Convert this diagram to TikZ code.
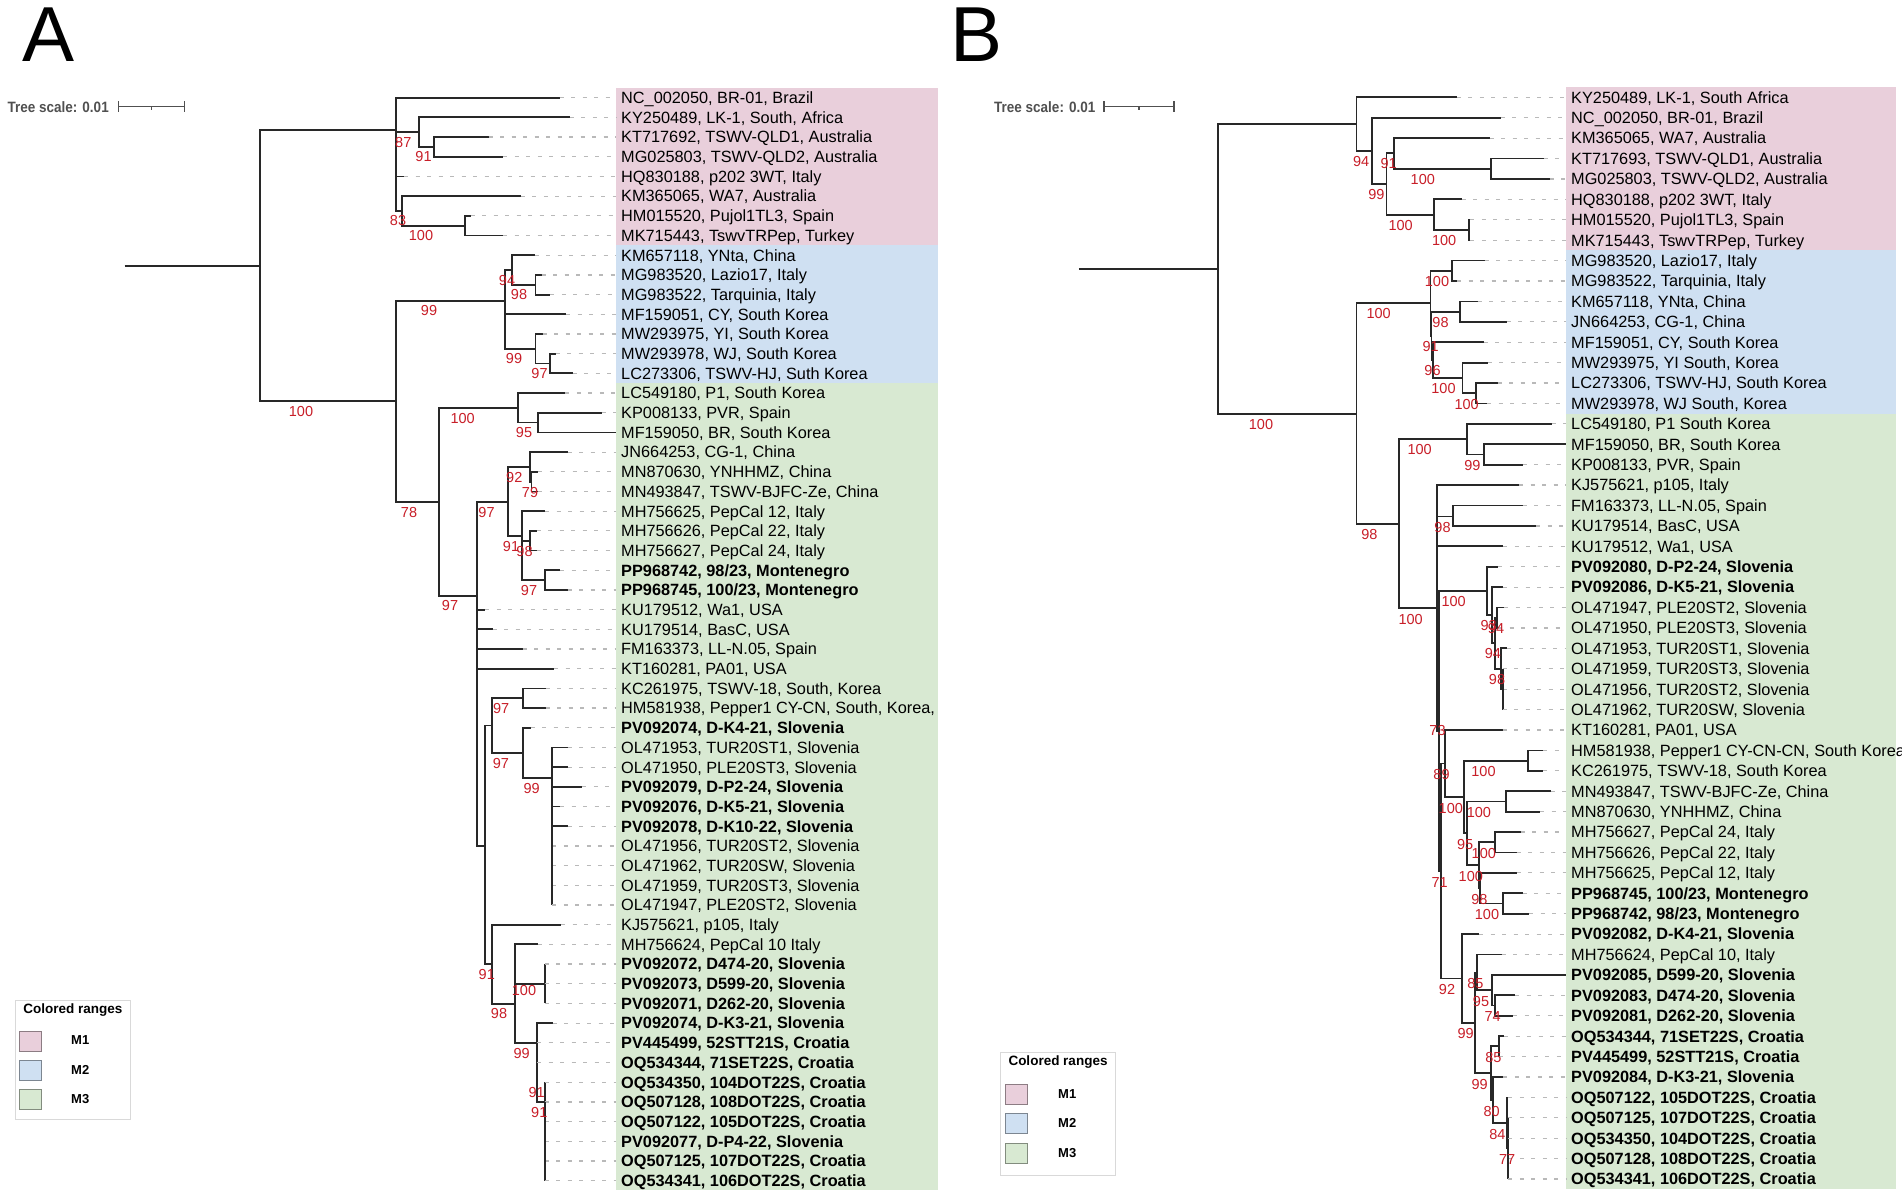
\documentclass[tikz,border=0pt]{standalone}
\usepackage{fontspec}
\setmainfont{Liberation Sans}
\definecolor{mpink}{RGB}{233,207,219}
\definecolor{mblue}{RGB}{207,224,242}
\definecolor{mgreen}{RGB}{216,233,210}
\definecolor{bsred}{RGB}{200,30,40}
\definecolor{brc}{RGB}{40,40,40}
\definecolor{dashc}{RGB}{185,185,185}
\definecolor{scalec}{RGB}{80,80,80}
\tikzset{
 br/.style={draw=brc, line width=1.8pt},
 dl/.style={draw=dashc, line width=1.2pt, dash pattern=on 4pt off 7.5pt},
 tl/.style={anchor=west, inner xsep=5pt, inner ysep=0pt, text height=14pt, text depth=2.3pt, font=\fontsize{16.3}{18}\selectfont},
 bs/.style={text=bsred, inner sep=0pt, font=\fontsize{14.5}{16}\selectfont},
 tscale/.style={anchor=west, inner sep=0pt, text=scalec, font=\bfseries\fontsize{15}{17}\selectfont},
 sbar/.style={draw=scalec, line width=1.5pt},
 legbox/.style={draw=gray!30, line width=0.8pt, fill=white},
 legtitle/.style={inner sep=0pt, font=\bfseries\fontsize{13.5}{15}\selectfont},
 legtext/.style={anchor=west, inner sep=0pt, font=\bfseries\fontsize{13}{15}\selectfont},
 swatch/.style={anchor=north west, minimum width=22pt, minimum height=20pt, inner sep=0pt, line width=0.8pt},
 panel/.style={anchor=base west, inner sep=0pt, font=\fontsize{78}{80}\selectfont},
}
\newcommand\rowA[1]{97.7+19.69*#1}
\newcommand\rowB[1]{97.3+20.41*#1}
\newcommand\inode[4]{\coordinate (#1) at (#2,#3);\draw[br] (#4) |- (#1);}
\newcommand\tipA[5]{\coordinate (ta#1) at (#2,{\rowA{#1}});%
  \draw[br] (#3) |- (ta#1);%
  \node[tl] (la#1) at (616,{\rowA{#1}}) {#4#5};%
  \draw[dl] (ta#1) -- (la#1.west);}
\newcommand\tipB[5]{\coordinate (tb#1) at (#2,{\rowB{#1}});%
  \draw[br] (#3) |- (tb#1);%
  \node[tl] (lb#1) at (1566,{\rowB{#1}}) {#4#5};%
  \draw[dl] (tb#1) -- (lb#1.west);}
\newcommand\bsl[4]{\node[bs] (#1) at (#2,#3) {#4};}
\begin{document}
\begin{tikzpicture}[x=1pt,y=-1pt]
\path[use as bounding box] (0,0) rectangle (1902,1198);
\clip (0,0) rectangle (1902,1198);
\fill[white] (0,0) rectangle (1902,1198);

% ---------- panel letters ----------
\node[panel] (pA) at (22,62) {A};
\node[panel] (pB) at (950,62) {B};

% ---------- tree scales ----------
\node[tscale] (tsA) at (7.5,106.7) {\scalebox{0.9}[1]{Tree scale: 0.01}};
\coordinate (sA1) at (118.6,106.7); \coordinate (sA2) at (184.7,106.7);
\draw[sbar] (sA1) -- (sA2);
\draw[sbar] (118.6,101.5) -- (118.6,112); \draw[sbar] (184.7,101.5) -- (184.7,112);
\draw[sbar] (151.6,106.7) -- (151.6,109.8);
\node[tscale] (tsB) at (994,106.7) {\scalebox{0.9}[1]{Tree scale: 0.01}};
\coordinate (sB1) at (1104.2,106.7); \coordinate (sB2) at (1173.8,106.7);
\draw[sbar] (sB1) -- (sB2);
\draw[sbar] (1104.2,101.5) -- (1104.2,112); \draw[sbar] (1173.8,101.5) -- (1173.8,112);
\draw[sbar] (1139,106.7) -- (1139,109.8);

% ---------- coloured ranges ----------
\fill[mpink]  (616,87.9) rectangle (937.7,245.35);
\fill[mblue]  (616,245.35) rectangle (937.7,383.2);
\fill[mgreen] (616,383.2) rectangle (937.7,1190.4);
\fill[mpink]  (1566,87.1) rectangle (1896,250.4);
\fill[mblue]  (1566,250.4) rectangle (1896,413.7);
\fill[mgreen] (1566,413.7) rectangle (1896,1189.2);

% ================= TREE A =================
\coordinate (stemA) at (124.6,265.7);
\coordinate (rootA) at (260.2,265.7);
\draw[br] (stemA) -- (rootA);
\inode{M1A}{395.8}{130.3}{rootA}
\inode{N87A}{419.1}{132.2}{M1A}
\inode{N91A}{433.8}{146.95}{N87A}
\inode{N83A}{402.1}{210.9}{M1A}
\inode{N100hA}{464.6}{225.65}{N83A}
\inode{M23A}{395.8}{401.3}{rootA}
\inode{M2A}{504.9}{300.8}{M23A}
\inode{N94A}{512}{270}{M2A}
\inode{N98A}{535.4}{284.75}{N94A}
\inode{N99A}{535.4}{348.8}{M2A}
\inode{N97A}{550}{363.55}{N99A}
\inode{M3A}{438.7}{502}{M23A}
\inode{N100cA}{517.7}{407.8}{M3A}
\inode{N95A}{538}{422.55}{N100cA}
\inode{N97bA}{477.3}{596}{M3A}
\inode{N97aA}{507.7}{501.65}{N97bA}
\inode{N92A}{530}{466.9}{N97aA}
\inode{N79A}{531.5}{481.65}{N92A}
\inode{N91mA}{522.3}{535.8}{N97aA}
\inode{N98mA}{530}{540.75}{N91mA}
\inode{N97mA}{545}{580.15}{N91mA}
\inode{TA}{485}{845.75}{N97bA}
\inode{N492A}{492.3}{725.5}{TA}
\inode{N522aA}{522.7}{698.25}{N492A}
\inode{N522bA}{522.7}{752.8}{N492A}
\inode{N99sA}{552.3}{777.8}{N522bA}
\inode{N91bA}{491.7}{963.85}{TA}
\inode{N98bA}{515}{1003.7}{N91bA}
\inode{N100sA}{544.7}{983.75}{N98bA}
\inode{N99bA}{537}{1043.3}{N98bA}
\inode{N91cA}{544.7}{1102.3}{N99bA}

\tipA{0}{559.5}{M1A}{}{NC\_002050, BR-01, Brazil}
\tipA{1}{569.8}{N87A}{}{KY250489, LK-1, South, Africa}
\tipA{2}{488.7}{N91A}{}{KT717692, TSWV-QLD1, Australia}
\tipA{3}{503.4}{N91A}{}{MG025803, TSWV-QLD2, Australia}
\tipA{4}{404.1}{M1A}{}{HQ830188, p202 3WT, Italy}
\tipA{5}{520.8}{N83A}{}{KM365065, WA7, Australia}
\tipA{6}{470.5}{N100hA}{}{HM015520, Pujol1TL3, Spain}
\tipA{7}{503}{N100hA}{}{MK715443, TswvTRPep, Turkey}
\tipA{8}{534.6}{N94A}{}{KM657118, YNta, China}
\tipA{9}{541.7}{N98A}{}{MG983520, Lazio17, Italy}
\tipA{10}{550.4}{N98A}{}{MG983522, Tarquinia, Italy}
\tipA{11}{566.2}{M2A}{}{MF159051, CY, South Korea}
\tipA{12}{542.5}{N99A}{}{MW293975, YI, South Korea}
\tipA{13}{555.5}{N97A}{}{MW293978, WJ, South Korea}
\tipA{14}{572.6}{N97A}{}{LC273306, TSWV-HJ, Suth Korea}
\tipA{15}{565.3}{N100cA}{}{LC549180, P1, South Korea}
\tipA{16}{601.7}{N95A}{}{KP008133, PVR, Spain}
\tipA{17}{616}{N95A}{}{MF159050, BR, South Korea}
\tipA{18}{567.7}{N92A}{}{JN664253, CG-1, China}
\tipA{19}{538}{N79A}{}{MN870630, YNHHMZ, China}
\tipA{20}{538}{N79A}{}{MN493847, TSWV-BJFC-Ze, China}
\tipA{21}{545}{N91mA}{}{MH756625, PepCal 12, Italy}
\tipA{22}{536.7}{N98mA}{}{MH756626, PepCal 22, Italy}
\tipA{23}{536.7}{N98mA}{}{MH756627, PepCal 24, Italy}
\tipA{24}{560}{N97mA}{\bfseries}{PP968742, 98/23, Montenegro}
\tipA{25}{567.7}{N97mA}{\bfseries}{PP968745, 100/23, Montenegro}
\tipA{26}{485.3}{N97bA}{}{KU179512, Wa1, USA}
\tipA{27}{492.7}{N97bA}{}{KU179514, BasC, USA}
\tipA{28}{522.7}{N97bA}{}{FM163373, LL-N.05, Spain}
\tipA{29}{554}{N97bA}{}{KT160281, PA01, USA}
\tipA{30}{545.7}{N522aA}{}{KC261975, TSWV-18, South, Korea}
\tipA{31}{545.7}{N522aA}{}{HM581938, Pepper1 CY-CN, South, Korea,}
\tipA{32}{530.7}{N522bA}{\bfseries}{PV092074, D-K4-21, Slovenia}
\tipA{33}{567.7}{N99sA}{}{OL471953, TUR20ST1, Slovenia}
\tipA{34}{567.7}{N99sA}{}{OL471950, PLE20ST3, Slovenia}
\tipA{35}{582.3}{N99sA}{\bfseries}{PV092079, D-P2-24, Slovenia}
\tipA{36}{560}{N99sA}{\bfseries}{PV092076, D-K5-21, Slovenia}
\tipA{37}{567.7}{N99sA}{\bfseries}{PV092078, D-K10-22, Slovenia}
\tipA{38}{552.3}{N99sA}{}{OL471956, TUR20ST2, Slovenia}
\tipA{39}{552.3}{N99sA}{}{OL471962, TUR20SW, Slovenia}
\tipA{40}{552.3}{N99sA}{}{OL471959, TUR20ST3, Slovenia}
\tipA{41}{552.3}{N99sA}{}{OL471947, PLE20ST2, Slovenia}
\tipA{42}{561}{N91bA}{}{KJ575621, p105, Italy}
\tipA{43}{537.7}{N98bA}{}{MH756624, PepCal 10 Italy}
\tipA{44}{544.7}{N100sA}{\bfseries}{PV092072, D474-20, Slovenia}
\tipA{45}{544.7}{N100sA}{\bfseries}{PV092073, D599-20, Slovenia}
\tipA{46}{544.7}{N100sA}{\bfseries}{PV092071, D262-20, Slovenia}
\tipA{47}{552.7}{N99bA}{\bfseries}{PV092074, D-K3-21, Slovenia}
\tipA{48}{537}{N99bA}{\bfseries}{PV445499, 52STT21S, Croatia}
\tipA{49}{537}{N99bA}{\bfseries}{OQ534344, 71SET22S, Croatia}
\tipA{50}{544.7}{N91cA}{\bfseries}{OQ534350, 104DOT22S, Croatia}
\tipA{51}{544.7}{N91cA}{\bfseries}{OQ507128, 108DOT22S, Croatia}
\tipA{52}{544.7}{N91cA}{\bfseries}{OQ507122, 105DOT22S, Croatia}
\tipA{53}{544.7}{N91cA}{\bfseries}{PV092077, D-P4-22, Slovenia}
\tipA{54}{544.7}{N91cA}{\bfseries}{OQ507125, 107DOT22S, Croatia}
\tipA{55}{544.7}{N91cA}{\bfseries}{OQ534341, 106DOT22S, Croatia}

\bsl{bA1}{403.3}{142.3}{87}
\bsl{bA2}{423.5}{157}{91}
\bsl{bA3}{398}{221}{83}
\bsl{bA4}{421}{236}{100}
\bsl{bA5}{301}{411.7}{100}
\bsl{bA6}{429}{311}{99}
\bsl{bA7}{507}{280.5}{94}
\bsl{bA8}{519}{295}{98}
\bsl{bA9}{514}{359}{99}
\bsl{bA10}{539.5}{373.5}{97}
\bsl{bA11}{409}{512.7}{78}
\bsl{bA12}{462.7}{418.3}{100}
\bsl{bA13}{524}{433}{95}
\bsl{bA14}{486.5}{512.2}{97}
\bsl{bA15}{514.3}{477.3}{92}
\bsl{bA16}{530}{492.5}{79}
\bsl{bA17}{511}{546.3}{91}
\bsl{bA18}{524.5}{551.5}{98}
\bsl{bA19}{529}{590.5}{97}
\bsl{bA20}{450}{606}{97}
\bsl{bA21}{501.2}{709}{97}
\bsl{bA22}{500.9}{763.3}{97}
\bsl{bA23}{531.6}{788.3}{99}
\bsl{bA24}{486.8}{974.5}{91}
\bsl{bA25}{499}{1013.5}{98}
\bsl{bA26}{524}{990}{100}
\bsl{bA27}{521.7}{1053.5}{99}
\bsl{bA28}{536.7}{1092.7}{91}
\bsl{bA29}{539.3}{1112.3}{91}

% ================= TREE B =================
\coordinate (stemB) at (1078.9,268.9);
\coordinate (rootB) at (1218.1,268.9);
\draw[br] (stemB) -- (rootB);
\inode{M1B}{1356.5}{124.1}{rootB}
\inode{N94B}{1371.9}{150.9}{M1B}
\inode{N99B}{1386.5}{184}{N94B}
\inode{N91B}{1393.6}{153.4}{N99B}
\inode{N100qB}{1491}{168.7}{N91B}
\inode{N100B}{1433.6}{214.7}{N99B}
\inode{N100hB}{1468.8}{230}{N100B}
\inode{M23B}{1356.5}{413.6}{rootB}
\inode{M2B}{1430.4}{303.3}{M23B}
\inode{N100aB}{1452.2}{270.8}{M2B}
\inode{X91B}{1431.5}{335.9}{M2B}
\inode{N98cB}{1460}{311.6}{X91B}
\inode{Y96B}{1433.2}{360.1}{X91B}
\inode{Z100B}{1462.5}{378}{Y96B}
\inode{W100B}{1476.3}{393.3}{Z100B}
\inode{M3B}{1399.3}{523.9}{M23B}
\inode{N100tB}{1467.3}{439.2}{M3B}
\inode{N99tB}{1484.3}{454.5}{N100tB}
\inode{P1B}{1437.3}{608.2}{M3B}
\inode{N98fB}{1452.7}{516.5}{P1B}
\inode{N73B}{1439.3}{731.3}{P1B}
\inode{AsB}{1487.3}{591.25}{N73B}
\inode{BsB}{1491.7}{615.2}{AsB}
\inode{CsB}{1494.7}{643.3}{BsB}
\inode{PsB}{1497}{617.8}{CsB}
\inode{EsB}{1501}{668.8}{CsB}
\inode{GsB}{1502.7}{689.2}{EsB}
\inode{N71B}{1440.7}{871.4}{N73B}
\inode{N89B}{1445}{763.5}{N71B}
\inode{N100gB}{1464.3}{797}{N89B}
\inode{N100bB}{1528.3}{760.6}{N100gB}
\inode{N95B}{1467.3}{833.3}{N100gB}
\inode{N100cB}{1506}{801.4}{N95B}
\inode{N100fB}{1479}{865.25}{N95B}
\inode{N100dB}{1495}{842.3}{N100fB}
\inode{N98pB}{1480}{888.2}{N100fB}
\inode{Q1B}{1503.3}{903.5}{N98pB}
\inode{N92B}{1461.7}{978.5}{N71B}
\inode{N99cB}{1475}{1022.8}{N92B}
\inode{N85B}{1476.7}{972.4}{N99cB}
\inode{N95bB}{1491.7}{990.2}{N85B}
\inode{N74B}{1495}{1005.5}{N95bB}
\inode{N99bB}{1491}{1073.2}{N99cB}
\inode{N85cB}{1499.3}{1046.3}{N99bB}
\inode{N80B}{1493.3}{1100}{N99bB}
\inode{N84B}{1506.6}{1122.9}{N80B}
\inode{N77B}{1508.3}{1148.4}{N84B}

\tipB{0}{1456.9}{M1B}{}{KY250489, LK-1, South Africa}
\tipB{1}{1500.8}{N94B}{}{NC\_002050, BR-01, Brazil}
\tipB{2}{1489.7}{N91B}{}{KM365065, WA7, Australia}
\tipB{3}{1543.9}{N100qB}{}{KT717693, TSWV-QLD1, Australia}
\tipB{4}{1549.8}{N100qB}{}{MG025803, TSWV-QLD2, Australia}
\tipB{5}{1461.7}{N100B}{}{HQ830188, p202 3WT, Italy}
\tipB{6}{1470.3}{N100hB}{}{HM015520, Pujol1TL3, Spain}
\tipB{7}{1470.3}{N100hB}{}{MK715443, TswvTRPep, Turkey}
\tipB{8}{1484.6}{N100aB}{}{MG983520, Lazio17, Italy}
\tipB{9}{1457}{N100aB}{}{MG983522, Tarquinia, Italy}
\tipB{10}{1477.5}{N98cB}{}{KM657118, YNta, China}
\tipB{11}{1506.7}{N98cB}{}{JN664253, CG-1, China}
\tipB{12}{1483.8}{Y96B}{}{MF159051, CY, South Korea}
\tipB{13}{1487.8}{Z100B}{}{MW293975, YI South, Korea}
\tipB{14}{1497.6}{W100B}{}{LC273306, TSWV-HJ, South Korea}
\tipB{15}{1487}{W100B}{}{MW293978, WJ South, Korea}
\tipB{16}{1551.7}{N100tB}{}{LC549180, P1 South Korea}
\tipB{17}{1566}{N99tB}{}{MF159050, BR, South Korea}
\tipB{18}{1522.7}{N99tB}{}{KP008133, PVR, Spain}
\tipB{19}{1519}{P1B}{}{KJ575621, p105, Italy}
\tipB{20}{1522.7}{N98fB}{}{FM163373, LL-N.05, Spain}
\tipB{21}{1536}{N98fB}{}{KU179514, BasC, USA}
\tipB{22}{1503.3}{P1B}{}{KU179512, Wa1, USA}
\tipB{23}{1498.3}{AsB}{\bfseries}{PV092080, D-P2-24, Slovenia}
\tipB{24}{1502.7}{BsB}{\bfseries}{PV092086, D-K5-21, Slovenia}
\tipB{25}{1504.3}{PsB}{}{OL471947, PLE20ST2, Slovenia}
\tipB{26}{1498}{PsB}{}{OL471950, PLE20ST3, Slovenia}
\tipB{27}{1507}{EsB}{}{OL471953, TUR20ST1, Slovenia}
\tipB{28}{1502.7}{GsB}{}{OL471959, TUR20ST3, Slovenia}
\tipB{29}{1502.7}{GsB}{}{OL471956, TUR20ST2, Slovenia}
\tipB{30}{1502.7}{GsB}{}{OL471962, TUR20SW, Slovenia}
\tipB{31}{1502.7}{N89B}{}{KT160281, PA01, USA}
\tipB{32}{1543.3}{N100bB}{}{HM581938, Pepper1 CY-CN-CN, South Korea}
\tipB{33}{1543.3}{N100bB}{}{KC261975, TSWV-18, South Korea}
\tipB{34}{1550.7}{N100cB}{}{MN493847, TSWV-BJFC-Ze, China}
\tipB{35}{1540}{N100cB}{}{MN870630, YNHHMZ, China}
\tipB{36}{1520.7}{N100dB}{}{MH756627, PepCal 24, Italy}
\tipB{37}{1516.7}{N100dB}{}{MH756626, PepCal 22, Italy}
\tipB{38}{1516.7}{N98pB}{}{MH756625, PepCal 12, Italy}
\tipB{39}{1522.7}{Q1B}{\bfseries}{PP968745, 100/23, Montenegro}
\tipB{40}{1529}{Q1B}{\bfseries}{PP968742, 98/23, Montenegro}
\tipB{41}{1479}{N92B}{\bfseries}{PV092082, D-K4-21, Slovenia}
\tipB{42}{1501.7}{N85B}{}{MH756624, PepCal 10, Italy}
\tipB{43}{1566}{N95bB}{\bfseries}{PV092085, D599-20, Slovenia}
\tipB{44}{1515}{N74B}{\bfseries}{PV092083, D474-20, Slovenia}
\tipB{45}{1513.3}{N74B}{\bfseries}{PV092081, D262-20, Slovenia}
\tipB{46}{1504}{N85cB}{\bfseries}{OQ534344, 71SET22S, Croatia}
\tipB{47}{1499.3}{N85cB}{\bfseries}{PV445499, 52STT21S, Croatia}
\tipB{48}{1503.3}{N80B}{\bfseries}{PV092084, D-K3-21, Slovenia}
\tipB{49}{1508.3}{N84B}{\bfseries}{OQ507122, 105DOT22S, Croatia}
\tipB{50}{1508.3}{N77B}{\bfseries}{OQ507125, 107DOT22S, Croatia}
\tipB{51}{1508.3}{N77B}{\bfseries}{OQ534350, 104DOT22S, Croatia}
\tipB{52}{1508.3}{N77B}{\bfseries}{OQ507128, 108DOT22S, Croatia}
\tipB{53}{1508.3}{N77B}{\bfseries}{OQ534341, 106DOT22S, Croatia}

\bsl{bB1}{1261}{425}{100}
\bsl{bB2}{1361.1}{161.4}{94}
\bsl{bB3}{1376.3}{194.5}{99}
\bsl{bB4}{1388.6}{163.9}{91}
\bsl{bB5}{1422.8}{179.5}{100}
\bsl{bB6}{1400.6}{225.5}{100}
\bsl{bB7}{1444.2}{240.8}{100}
\bsl{bB8}{1378.7}{314}{100}
\bsl{bB9}{1437}{281.8}{100}
\bsl{bB10}{1430.7}{346.6}{91}
\bsl{bB11}{1440.5}{322.3}{98}
\bsl{bB12}{1432.5}{370.8}{96}
\bsl{bB13}{1443.5}{388.7}{100}
\bsl{bB14}{1466.6}{404.2}{100}
\bsl{bB15}{1369.3}{534.6}{98}
\bsl{bB16}{1419.7}{450}{100}
\bsl{bB17}{1472.4}{465.3}{99}
\bsl{bB18}{1410.7}{619.2}{100}
\bsl{bB19}{1442.5}{527.2}{98}
\bsl{bB20}{1437.5}{731}{73}
\bsl{bB21}{1453.7}{602}{100}
\bsl{bB22}{1488.6}{626}{93}
\bsl{bB23}{1492.8}{654}{94}
\bsl{bB24}{1496}{628.5}{94}
\bsl{bB25}{1497}{679.5}{98}
\bsl{bB26}{1439.7}{882.2}{71}
\bsl{bB27}{1441.5}{774.3}{89}
\bsl{bB28}{1450.8}{808}{100}
\bsl{bB29}{1483.5}{771.4}{100}
\bsl{bB30}{1465.2}{844}{95}
\bsl{bB31}{1478.9}{812.2}{100}
\bsl{bB32}{1470.8}{876}{100}
\bsl{bB33}{1483.8}{853}{100}
\bsl{bB34}{1479.3}{899}{98}
\bsl{bB35}{1487}{914.5}{100}
\bsl{bB36}{1447}{989.2}{92}
\bsl{bB37}{1465.7}{1033.6}{99}
\bsl{bB38}{1475.3}{983.2}{85}
\bsl{bB39}{1481}{1001}{95}
\bsl{bB40}{1492.7}{1016.5}{74}
\bsl{bB41}{1479.6}{1084}{99}
\bsl{bB42}{1493.4}{1057}{85}
\bsl{bB43}{1491.7}{1111}{80}
\bsl{bB44}{1497.3}{1134}{84}
\bsl{bB45}{1507.2}{1159}{77}

% ---------- legends ----------
\draw[legbox] (15.8,1000) rectangle (130.2,1119);
\node[legtitle] (lgA) at (73,1010.5) {Colored ranges};
\node[swatch, fill=mpink, draw=mpink!60!black] (swA1) at (18.5,1030.5) {};
\node[swatch, fill=mblue, draw=mblue!60!black] (swA2) at (18.5,1059.7) {};
\node[swatch, fill=mgreen, draw=mgreen!60!black] (swA3) at (18.5,1088.9) {};
\node[legtext] (ltA1) at (71,1040.5) {M1};
\node[legtext] (ltA2) at (71,1069.7) {M2};
\node[legtext] (ltA3) at (71,1098.9) {M3};

\draw[legbox] (1000,1052.3) rectangle (1115.6,1175.2);
\node[legtitle] (lgB) at (1058,1062.5) {Colored ranges};
\node[swatch, fill=mpink, draw=mpink!60!black] (swB1) at (1005,1083.7) {};
\node[swatch, fill=mblue, draw=mblue!60!black] (swB2) at (1005,1112.9) {};
\node[swatch, fill=mgreen, draw=mgreen!60!black] (swB3) at (1005,1143.3) {};
\node[legtext] (ltB1) at (1058,1093.7) {M1};
\node[legtext] (ltB2) at (1058,1122.9) {M2};
\node[legtext] (ltB3) at (1058,1153.3) {M3};
\end{tikzpicture}
\end{document}
